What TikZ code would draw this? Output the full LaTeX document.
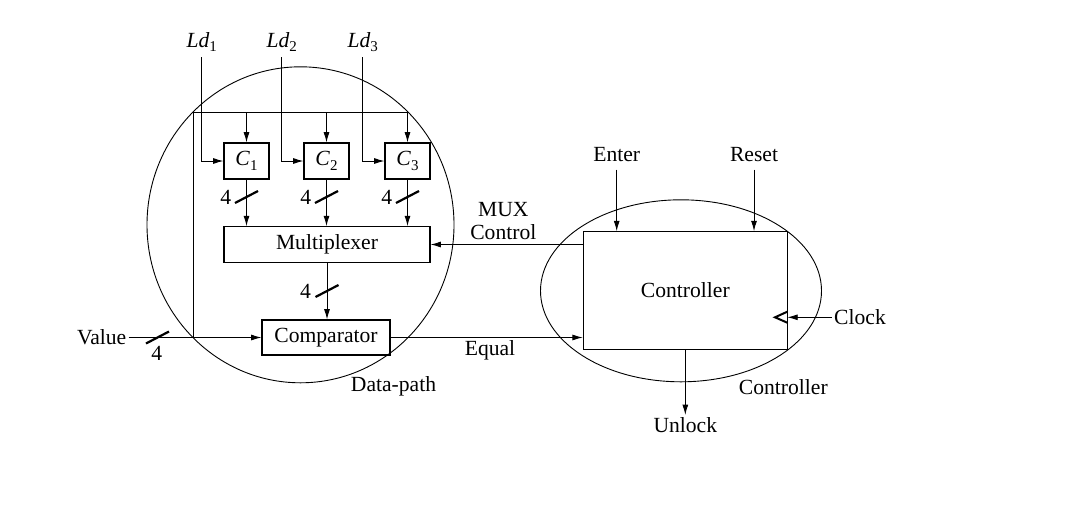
\documentclass[tikz,border=0pt]{standalone}
\usepackage{fontspec}
\setmainfont{Liberation Serif}
\usetikzlibrary{arrows.meta,calc}
\newcommand{\lowsub}[1]{\raisebox{-2.2pt}{\fontsize{7.5pt}{9pt}\selectfont #1}}
\begin{document}
\begin{tikzpicture}[x=0.5pt,y=-0.5pt,
  font=\fontsize{10.8pt}{13pt}\selectfont,
  line width=0.45pt,
  >={Latex[length=5.2pt,width=3pt]},
  blk/.style={draw,line width=0.55pt,inner sep=0pt},
  lbl/.style={inner sep=1pt},
  busmark/.pic={\draw[line width=1.1pt] (-11.5,6) -- (11.5,-6);}
]
\useasboundingbox (0,0) rectangle (1074,520);

% enclosing ellipses
\draw (300.5,224.8) ellipse [x radius=76.75pt, y radius=79pt];
\draw (681,290.8) ellipse [x radius=70.25pt, y radius=45.5pt];
\node[lbl] (dplabel) at (393.5,386.7) {Data-path};
\node[lbl] (ctlabel) at (783.3,386.7) {Controller};

% blocks
\node[blk,minimum width=22.5pt,minimum height=18pt] (c1) at (246.5,161) {\textit{C}\lowsub{1}};
\node[blk,minimum width=22.5pt,minimum height=18pt] (c2) at (326.5,161) {\textit{C}\lowsub{2}};
\node[blk,minimum width=22.5pt,minimum height=18pt] (c3) at (407.5,161) {\textit{C}\lowsub{3}};
\node[blk,minimum width=103pt,minimum height=17.8pt] (mux) at (327,244.5) {Multiplexer};
\node[blk,minimum width=64pt,minimum height=17.5pt] (comp) at (326,337.5) {Comparator};
\node[blk,minimum width=102pt,minimum height=58.8pt] (ctrl) at (685.3,290.5) {Controller};

% Ld inputs
\node[lbl] (ld1) at (201.7,42) {\textit{Ld}\lowsub{1}};
\node[lbl] (ld2) at (281.7,42) {\textit{Ld}\lowsub{2}};
\node[lbl] (ld3) at (362.7,42) {\textit{Ld}\lowsub{3}};
\draw[->] (ld1.south) ++(0,3) |- (c1.west);
\draw[->] (ld2.south) ++(0,3) |- (c2.west);
\draw[->] (ld3.south) ++(0,3) |- (c3.west);

% Value input and bus
\node[lbl] (value) at (101.7,337.5) {Value};
\coordinate (vj) at (193.3,337.5);
\coordinate (bt) at (193.3,112.3);
\draw[->] (value.east) -- (comp.west);
\draw (vj) -- (bt) -- (bt -| c3.north);
\draw[->] (bt -| c1.north) -- (c1.north);
\draw[->] (bt -| c2.north) -- (c2.north);
\draw[->] (bt -| c3.north) -- (c3.north);
\pic at (157.5,337.5) {busmark};
\node[lbl] (w0) at (156.7,353) {4};

% registers to multiplexer
\draw[->] (c1.south) -- (c1.south |- mux.north);
\draw[->] (c2.south) -- (c2.south |- mux.north);
\draw[->] (c3.south) -- (c3.south |- mux.north);
\pic at (246.5,197) {busmark};
\pic at (326.5,197) {busmark};
\pic at (407.5,197) {busmark};
\node[lbl] (w1) at (225.7,197) {4};
\node[lbl] (w2) at (305.7,197) {4};
\node[lbl] (w3) at (386.7,197) {4};

% multiplexer to comparator
\draw[->] (mux.south) -- (mux.south |- comp.north);
\pic at (327,291) {busmark};
\node[lbl] (w4) at (305.5,291) {4};

% controller signals
\draw[->] (ctrl.west |- mux.east) -- (mux.east);
\node[lbl,align=center,inner sep=0pt] (muxc) at (503.3,221.5) {MUX\\[-1.5pt]Control};
\draw[->] (comp.east) -- (comp.east -| ctrl.west);
\node[lbl] (equal) at (490,350) {Equal};

\node[lbl] (enter) at (616.7,155) {Enter};
\node[lbl] (reset) at (754,155) {Reset};
\draw[->] (enter.south) ++(0,5) -- (enter.south |- ctrl.north);
\draw[->] (reset.south) ++(0,5) -- (reset.south |- ctrl.north);

\node[lbl] (clock) at (860,317.3) {Clock};
\coordinate (clk) at (787.3,317.3);
\draw[->] (clock.west) -- (clk);
\draw[line width=1pt] ($(clk)+(0,-5.6)$) -- ($(clk)+(-12.3,0)$) -- ($(clk)+(0,5.4)$);

\node[lbl] (unlock) at (685.3,425) {Unlock};
\draw[->] (ctrl.south) -- (unlock.north);
\end{tikzpicture}
\end{document}
